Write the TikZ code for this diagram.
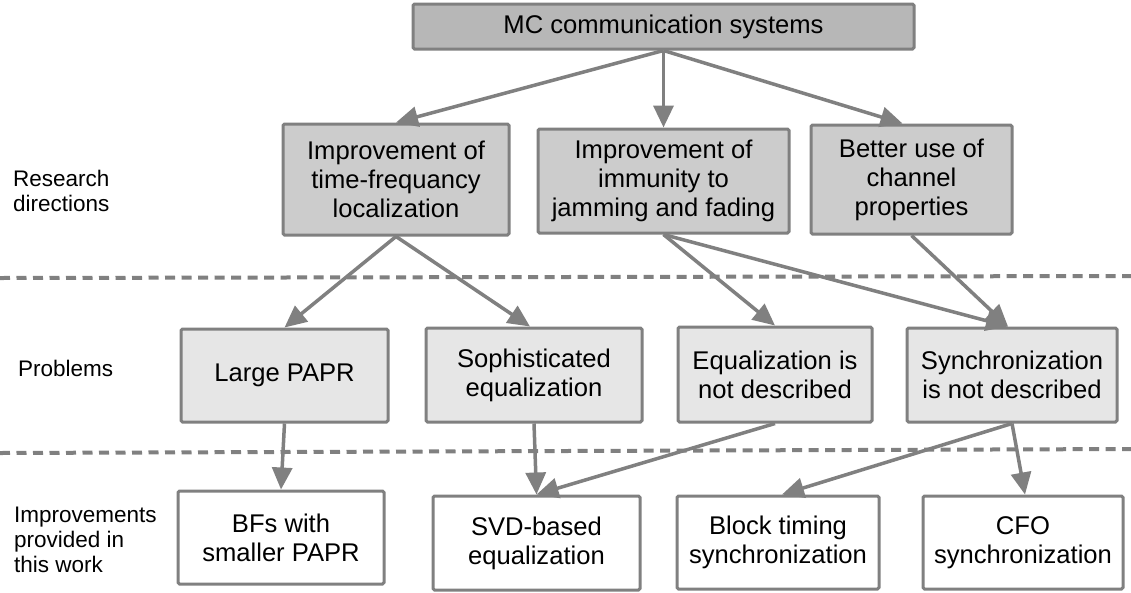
\documentclass[tikz,border=0pt]{standalone}
\usepackage{fontspec}
\setmainfont{Liberation Sans}
\usetikzlibrary{arrows.meta}
\definecolor{edgegray}{HTML}{808080}
\definecolor{topfill}{HTML}{B7B7B7}
\definecolor{dirfill}{HTML}{CCCCCC}
\definecolor{probfill}{HTML}{E6E6E6}
\tikzset{
  box/.style={draw=edgegray, line width=3pt, rounded corners=1.5pt, inner sep=0pt,
    align=center, font=\fontsize{25.6}{29}\selectfont, text=black},
  topbox/.style={box, fill=topfill},
  dirbox/.style={box, fill=dirfill},
  probbox/.style={box, fill=probfill},
  impbox/.style={box, fill=white},
  link/.style={draw=edgegray, line width=3.5pt,
    -{Triangle[length=22pt,width=20pt]}},
  levelsep/.style={draw=edgegray, line width=4pt, dash pattern=on 10pt off 6.5pt},
  sidelabel/.style={inner sep=0pt, align=left, font=\fontsize{22.5}{25}\selectfont}
}
\begin{document}
\begin{tikzpicture}[x=1pt, y=-1pt]
\useasboundingbox[fill=white] (0,0) rectangle (1131,592);

% level separators
\draw[levelsep] (0,278) -- (1131,276);
\draw[levelsep] (0,453) -- (1131,449);

% side labels
\node[sidelabel, anchor=west] (lres) at (13,191) {Research\\directions};
\node[sidelabel, anchor=base west] (lprob) at (18,376) {Problems};
\node[sidelabel, anchor=west] (limp) at (14,540) {Improvements\\provided in\\this work};

% root
\node[topbox, minimum width=501pt, minimum height=45pt] (root) at (663.5,26.5) {MC communication systems};

% research directions
\node[dirbox, minimum width=226pt, minimum height=111pt] (d1) at (396,179.5) {Improvement of\\time-frequancy\\localization};
\node[dirbox, minimum width=251pt, minimum height=104pt] (d2) at (663.5,181) {Improvement of\\immunity to\\jamming and fading};
\node[dirbox, minimum width=201pt, minimum height=109pt] (d3) at (911.5,179.5) {Better use of\\channel\\properties};

% problems
\node[probbox, minimum width=207pt, minimum height=93pt] (p1) at (284.5,375.5) {Large PAPR};
\node[probbox, minimum width=216pt, minimum height=94pt] (p2) at (534,375) {Sophisticated\\equalization};
\node[probbox, minimum width=194pt, minimum height=95pt] (p3) at (775,374.5) {Equalization is\\not described};
\node[probbox, minimum width=210pt, minimum height=94pt] (p4) at (1012,375) {Synchronization\\is not described};

% improvements
\node[impbox, minimum width=206pt, minimum height=93pt] (i1) at (281,537.5) {BFs with\\smaller PAPR};
\node[impbox, minimum width=207pt, minimum height=94pt] (i2) at (536.5,543) {SVD-based\\equalization};
\node[impbox, minimum width=202pt, minimum height=93pt] (i3) at (778,542.5) {Block timing\\synchronization};
\node[impbox, minimum width=200pt, minimum height=93pt] (i4) at (1023,542.5) {CFO\\synchronization};

% connectors
\draw[link] (root.south) -- (d1.north);
\draw[link] (root.south) -- (d2.north);
\draw[link] (root.south) -- ([xshift=-9pt]d3.north);
\draw[link] (d1.south) -- (p1.north);
\draw[link] (d1.south) -- ([xshift=-4pt]p2.north);
\draw[link] (d2.south) -- (p3.north);
\draw[link] (d2.south) -- ([xshift=-4pt]p4.north);
\draw[link] (d3.south) -- ([xshift=-4pt]p4.north);
\draw[link] (p1.south) -- (i1.north);
\draw[link] (p2.south) -- (i2.north);
\draw[link] (p3.south) -- (i2.north);
\draw[link] (p4.south) -- ([xshift=4pt]i3.north);
\draw[link] (p4.south) -- ([xshift=2pt]i4.north);
\end{tikzpicture}
\end{document}
